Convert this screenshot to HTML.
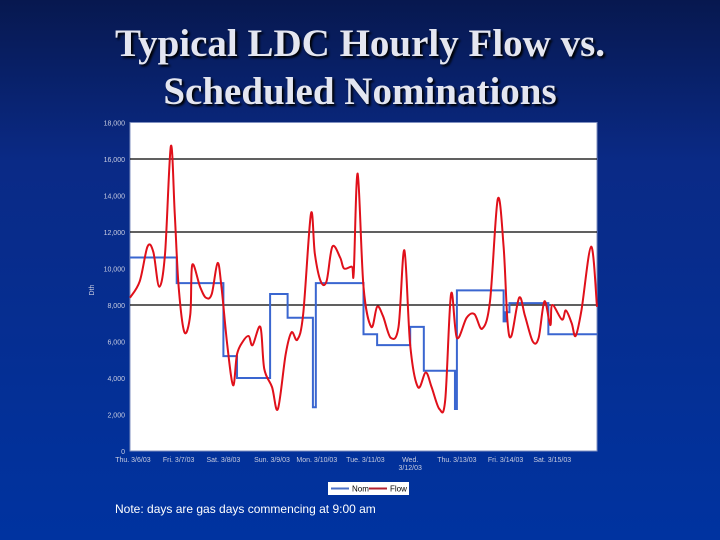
<!DOCTYPE html>
<html><head><meta charset="utf-8"><style>
html,body{margin:0;padding:0;}
body{width:720px;height:540px;overflow:hidden;background:linear-gradient(180deg,#07184f 0%,#0a2a86 30%,#0033a0 100%);position:relative;font-family:"Liberation Sans",sans-serif;}
.title{position:absolute;left:0;width:720px;text-align:center;font-family:"Liberation Serif",serif;font-weight:bold;font-size:39px;color:#e4e6f0;text-shadow:2px 2px 2px #000;line-height:48px;}
.note{position:absolute;left:115px;top:502px;color:#fff;font-size:12px;}
</style></head><body>
<div class="title" style="top:20px">Typical LDC Hourly Flow vs.<br>Scheduled Nominations</div>
<svg id="chart" width="720" height="540" style="position:absolute;left:0;top:0"></svg>
<div class="note">Note: days are gas days commencing at 9:00 am</div>
<script>
const flowHours=[0,5,9,12,15,18,21,23,25,28,31,32,36,39,42,45,47,50,53,55,58,61,63,67,69,73,76,80,83,86,89,93,95,98,101,104,108,110,114,115,117,120,124,127,130,134,138,141,144,148,152,155,159,162,165,168,173,177,181,185,189,192,194,196,200,203,207,210,213,216,217,222,224,227,229,232,237,240];
const flowValues=[8400,9300,11200,10900,9000,10800,16700,13000,9000,6500,7500,10200,9000,8400,8600,10300,9000,5800,3600,5300,6000,6300,5800,6800,4500,3500,2300,5300,6500,6100,7500,13000,10800,9300,9300,11200,10600,10000,10100,9800,15200,9000,6800,7900,7400,6200,6800,11000,5800,3500,4300,3500,2300,2800,8600,6200,7300,7500,6700,8200,13800,11200,7100,6300,8400,7400,6000,6200,8200,6900,8000,7200,7700,7000,6300,7700,11200,7900];
const nomStarts=[0,24,48,55,72,81,94,95.5,120,127,144,151,167,168,192,193,195,215];
const nomValues=[10600,9200,5200,4000,8600,7300,2400,9200,6400,5800,6800,4400,2300,8800,7100,7600,8100,6400];
const nomEnd=240;
const yTicks=[0,2000,4000,6000,8000,10000,12000,14000,16000,18000];
const yTickLabels=["0","2,000","4,000","6,000","8,000","10,000","12,000","14,000","16,000","18,000"];
const gridValues=[8000,12000,16000];
const xLabelHours=[1.5,25,48,73,96,121,144,168,193,217];
const xLabels=["Thu. 3/6/03","Fri. 3/7/03","Sat. 3/8/03","Sun. 3/9/03","Mon. 3/10/03","Tue. 3/11/03","Wed.|3/12/03","Thu. 3/13/03","Fri. 3/14/03","Sat. 3/15/03"];

const X0=130,X1=597,Y0=451,Y1=122.5;
const xs=h=>X0+(h/240)*(X1-X0);
const ys=v=>Y0-(v/18000)*(Y0-Y1);
const svg=document.getElementById('chart');
const NS='http://www.w3.org/2000/svg';
function mk(t,a){const e=document.createElementNS(NS,t);for(const k in a)e.setAttribute(k,a[k]);svg.appendChild(e);return e;}
let e=mk('rect',{x:X0,y:Y1,width:X1-X0,height:Y0-Y1,fill:'#fff',stroke:'#8090c0','stroke-width':1});


gridValues.forEach(v=>{const g=mk('line',{x1:X0,x2:X1,y1:ys(v),y2:ys(v),stroke:'#000','stroke-width':1.3});

});
yTicks.forEach((v,i)=>{const t=mk('text',{x:X0-5,y:ys(v)+3,'text-anchor':'end','font-size':7,fill:'#c8cce0','font-family':'Liberation Sans, sans-serif'});t.textContent=yTickLabels[i];

});
xLabelHours.forEach((h,i)=>{const parts=xLabels[i].split('|');parts.forEach((p,j)=>{const t=mk('text',{x:xs(h),y:462+j*8,'text-anchor':'middle','font-size':7,fill:'#c8cce0','font-family':'Liberation Sans, sans-serif'});t.textContent=p;

});});
e=mk('text',{x:94,y:290,'text-anchor':'middle','font-size':7,fill:'#c8cce0',transform:'rotate(-90 94 290)'});e.textContent='Dth';


let d='';
nomStarts.forEach((h,i)=>{const end=i<nomStarts.length-1?nomStarts[i+1]:nomEnd;const y=ys(nomValues[i]);d+=(i===0?'M':'L')+xs(h)+','+y+'L'+xs(end)+','+y;});
e=mk('path',{d:d,fill:'none',stroke:'#3a66d0','stroke-width':2});


const P=flowHours.map((h,i)=>[xs(h),ys(flowValues[i])]);
d='M'+P[0][0]+','+P[0][1];
for(let i=0;i<P.length-1;i++){const p0=P[Math.max(0,i-1)],p1=P[i],p2=P[i+1],p3=P[Math.min(P.length-1,i+2)];
const c1=[p1[0]+(p2[0]-p0[0])/6,p1[1]+(p2[1]-p0[1])/6],c2=[p2[0]-(p3[0]-p1[0])/6,p2[1]-(p3[1]-p1[1])/6];
d+='C'+c1[0]+','+c1[1]+' '+c2[0]+','+c2[1]+' '+p2[0]+','+p2[1];}
e=mk('path',{d:d,fill:'none',stroke:'#e0101a','stroke-width':2,'stroke-linejoin':'round'});


const lg=mk('g',{});


const lr=document.createElementNS(NS,'rect');lr.setAttribute('x',328);lr.setAttribute('y',482);lr.setAttribute('width',81);lr.setAttribute('height',13);lr.setAttribute('fill','#fff');lg.appendChild(lr);
[['Nom','#4a70c8',331,'legend-entry-nom'],['Flow','#b02030',369,'legend-entry-flow']].forEach(([n,c,x,nm])=>{const l=document.createElementNS(NS,'line');l.setAttribute('x1',x);l.setAttribute('x2',x+18);l.setAttribute('y1',488.5);l.setAttribute('y2',488.5);l.setAttribute('stroke',c);l.setAttribute('stroke-width',2);lg.appendChild(l);
const t=document.createElementNS(NS,'text');t.setAttribute('x',x+21);t.setAttribute('y',491.5);t.setAttribute('font-size',8);t.setAttribute('fill','#000');t.textContent=n;


lg.appendChild(t);});
</script>
</body></html>
